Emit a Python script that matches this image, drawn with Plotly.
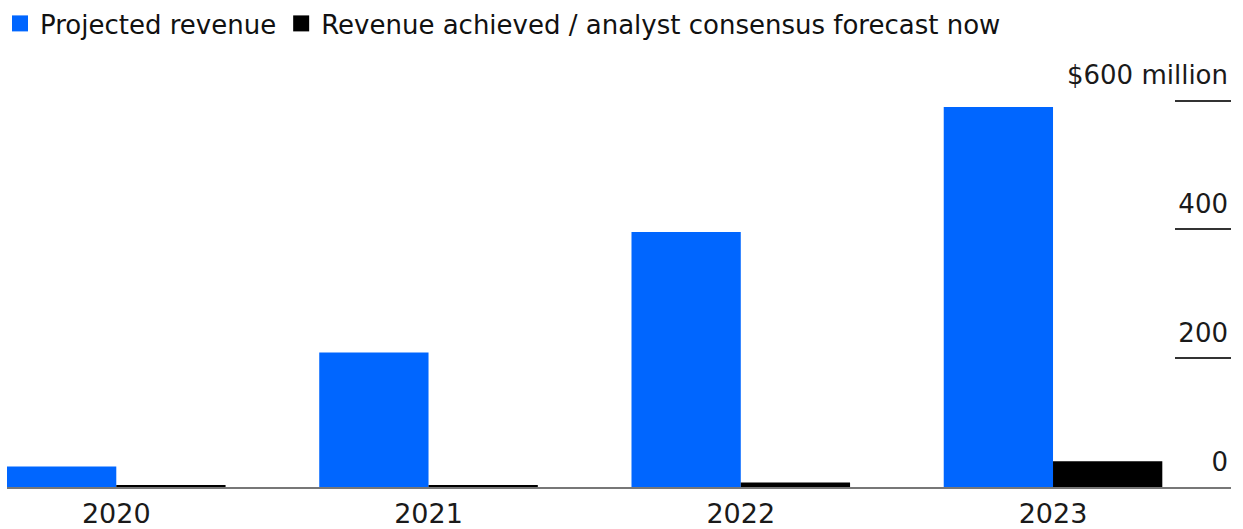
import plotly.graph_objects as go

years = ["2020", "2021", "2022", "2023"]
projected = [32, 209, 396, 590]
achieved = [2, 3, 7, 40]
series_names = ["Projected revenue", "Revenue achieved / analyst consensus forecast now"]
series_colors = ["#0066ff", "#000000"]
tick_vals = [0, 200, 400, 600]
tick_text = ["0", "200", "400", "$600 million"]

FONT = "DejaVu Sans"

fig = go.Figure()
for vals, name, color in zip([projected, achieved], series_names, series_colors):
    fig.add_trace(go.Bar(x=years, y=vals, name=name, showlegend=False,
                         marker=dict(color=color, line=dict(width=0))))
# legend entries with larger square swatches
for name, color in zip(series_names, series_colors):
    fig.add_trace(go.Scatter(x=[None], y=[None], mode="markers", name=name,
                             marker=dict(symbol="square", size=17, color=color,
                                         line=dict(width=0))))

fig.update_layout(
    width=1243, height=529,
    margin=dict(l=7, r=12, t=60, b=42, autoexpand=False),
    paper_bgcolor="white", plot_bgcolor="white",
    barmode="group", bargap=0.30, bargroupgap=0,
    font=dict(family=FONT, size=26, color="#1a1a1a"),
    showlegend=True,
    legend=dict(orientation="h", x=0, xref="container", xanchor="left",
                y=1, yref="container", yanchor="top",
                font=dict(size=26, color="#111"), itemwidth=30,
                traceorder="normal", bgcolor="rgba(0,0,0,0)"),
    xaxis=dict(type="category", range=[-0.35, 3.57], showline=True,
               linecolor="#777", linewidth=2, ticks="", showgrid=False,
               ticklabelstandoff=2, automargin=False,
               tickfont=dict(size=27, color="#1a1a1a")),
    yaxis=dict(side="right", range=[0, 663], tickvals=tick_vals, ticktext=tick_text,
               showgrid=False, zeroline=False, showline=False, automargin=False,
               ticks="inside", ticklen=56, tickwidth=2, tickcolor="#333",
               ticklabelposition="inside top", ticklabelshift=-6,
               tickfont=dict(size=26, color="#1a1a1a")),
)

fig.write_html("out.html")
